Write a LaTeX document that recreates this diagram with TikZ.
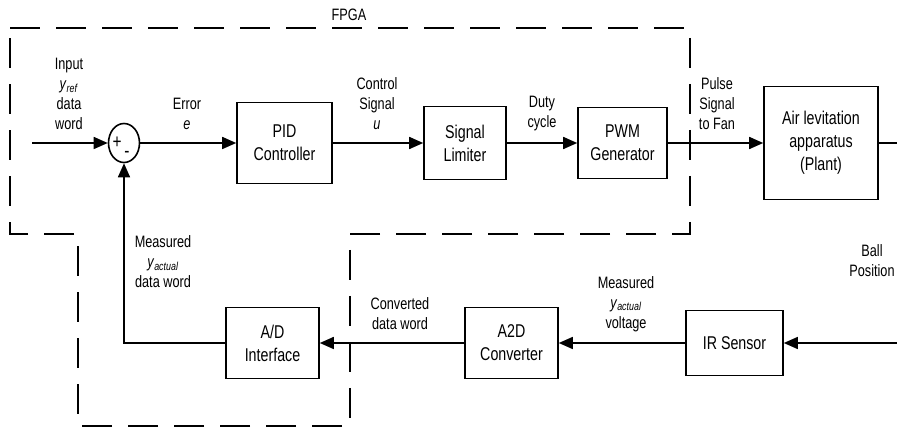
\documentclass[tikz,border=0pt]{standalone}
\usepackage{fontspec}
\setmainfont{Liberation Sans}[FakeStretch=0.77]
\usetikzlibrary{arrows.meta,shapes.geometric}
\tikzset{
  blk/.style={draw, line width=1.6pt, align=center, inner sep=0pt, font=\fontsize{18.5}{23}\selectfont},
  lbl/.style={align=center, inner sep=0pt, font=\fontsize{16.5}{20}\selectfont},
  sig/.style={line width=1.6pt, -{Triangle[length=14pt,width=12pt]}},
  wire/.style={line width=1.6pt},
  fpga/.style={line width=1.6pt, dash pattern=on 30pt off 16pt}
}
\newcommand{\ysub}[1]{\textit{y}\textsubscript{\textit{#1}}}
\begin{document}
\begin{tikzpicture}[x=1pt,y=-1pt]
\useasboundingbox (0,0) rectangle (897,427);
% FPGA boundary
\draw[fpga] (10,28) -- (690,28) -- (690,234) -- (350,234) -- (350,426) -- (78,426) -- (78,234) -- (10,234) -- cycle;
\node[lbl] (fpgalbl) at (349,15) {FPGA};
% blocks
\node[draw, ellipse, line width=1.6pt, minimum width=31pt, minimum height=39pt, inner sep=0pt] (sum) at (124,143) {};
\node[lbl, font=\fontsize{20}{20}\selectfont] (plus) at (117,143) {+};
\node[lbl, font=\fontsize{20}{20}\selectfont] (minus) at (127,154) {-};
\node[blk, minimum width=95pt, minimum height=81pt] (pid) at (284.5,143) {PID\\Controller};
\node[blk, minimum width=82pt, minimum height=73pt] (lim) at (465,143) {Signal\\Limiter};
\node[blk, minimum width=89pt, minimum height=71pt] (pwm) at (622.5,143) {PWM\\Generator};
\node[blk, minimum width=114pt, minimum height=113pt] (plant) at (821,143) {Air levitation\\apparatus\\(Plant)};
\node[blk, minimum width=93pt, minimum height=71pt] (adi) at (272.5,343) {A/D\\Interface};
\node[blk, minimum width=93pt, minimum height=71pt] (a2d) at (511.5,343) {A2D\\Converter};
\node[blk, minimum width=97pt, minimum height=65pt] (ir) at (734.5,343) {IR Sensor};
% coordinates
\coordinate (in) at (32,143);
\coordinate (out) at (897,143);
\coordinate (ball) at (897,343);
\coordinate (fbk) at (124,343);
% connectors
\draw[sig] (in) -- (sum.west);
\draw[sig] (sum.east) -- (pid.west);
\draw[sig] (pid.east) -- (lim.west);
\draw[sig] (lim.east) -- (pwm.west);
\draw[sig] (pwm.east) -- (plant.west);
\draw[wire] (plant.east) -- (out);
\draw[sig] (ball) -- (ir.east);
\draw[sig] (ir.west) -- (a2d.east);
\draw[sig] (a2d.west) -- (adi.east);
\draw[sig] (adi.west) -- (fbk) -- (sum.south);
% labels
\node[lbl] (linput) at (69,94) {Input\\\ysub{ref}\\data\\word};
\node[lbl] (lerror) at (187,114) {Error\\\textit{e}};
\node[lbl] (lctrl) at (377,104) {Control\\Signal\\\textit{u}};
\node[lbl] (lduty) at (542,114) {Duty\\cycle};
\node[lbl] (lpulse) at (717,104) {Pulse\\Signal\\to Fan};
\node[lbl] (lball) at (872,261) {Ball\\Position};
\node[lbl] (lmeas1) at (163,262) {Measured\\\ysub{actual}\\data word};
\node[lbl] (lconv) at (400,313.5) {Converted\\data word};
\node[lbl] (lmeas2) at (626,304) {Measured\\\ysub{actual}\\voltage};
\end{tikzpicture}
\end{document}
